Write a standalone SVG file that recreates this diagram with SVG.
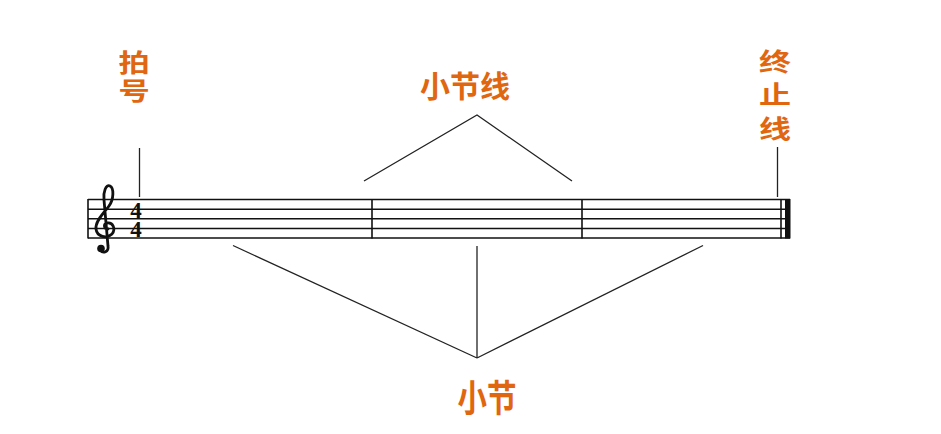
<svg xmlns="http://www.w3.org/2000/svg" width="941" height="434" viewBox="0 0 941 434">
<style>
.lbl{font-family:"Noto Sans CJK SC","Noto Sans CJK TC",sans-serif;font-weight:bold;fill:#e0660f;text-anchor:middle}
.staff{stroke:#111;stroke-width:1.5;fill:none}
.bar{stroke:#111;stroke-width:1.6}
.ptr{stroke:#222;stroke-width:1.3;fill:none}
.ts{font-family:"Liberation Serif","DejaVu Serif",serif;font-weight:bold;font-size:23px;fill:#111;text-anchor:middle}
</style>
<rect width="941" height="434" fill="#fff"/>
<g id="staff">
  <g class="staff">
    <line x1="88" y1="199.5" x2="790" y2="199.5"/>
    <line x1="88" y1="209.2" x2="790" y2="209.2"/>
    <line x1="88" y1="218.8" x2="790" y2="218.8"/>
    <line x1="88" y1="228.4" x2="790" y2="228.4"/>
    <line x1="88" y1="238" x2="790" y2="238"/>
  </g>
  <line class="bar" x1="88" y1="199" x2="88" y2="238.5"/>
  <line class="bar" x1="372" y1="199" x2="372" y2="238.5"/>
  <line class="bar" x1="582" y1="199" x2="582" y2="238.5"/>
  <line class="bar" x1="781" y1="199" x2="781" y2="238.5"/>
  <rect x="785" y="199" width="5.5" height="39.5" fill="#111"/>
  <g id="clef">
    <path d="M108 229 C104 229 103 224 107 223 C113 222 116 229 112 234 C107 239 97 237 96 229 C95 221 104 213 109 206 C114 199 114 188 110 186 C106 184 103 192 104 200 L108 246 C109 252 103 254 100 250" fill="none" stroke="#111" stroke-width="2.8" stroke-linecap="round"/>
    <circle cx="101" cy="248.5" r="3.8" fill="#111"/>
  </g>
  <g id="timesig">
    <text class="ts" x="136" y="217.5">4</text>
    <text class="ts" x="136" y="237">4</text>
  </g>
</g>
<g id="label-paihao">
  <g transform="translate(134,0) scale(1.25,1)">
    <text class="lbl" x="0" y="72" font-size="25">拍</text>
    <text class="lbl" x="0" y="100" font-size="25">号</text>
  </g>
</g>
<g id="label-xiaojiexian">
  <text class="lbl" x="465" y="97" font-size="30">小节线</text>
</g>
<g id="label-zhongzhixian">
  <g transform="translate(775,0) scale(1.28,1)">
    <text class="lbl" x="0" y="71" font-size="25">终</text>
    <text class="lbl" x="0" y="104" font-size="25">止</text>
    <text class="lbl" x="0" y="138" font-size="25">线</text>
  </g>
</g>
<g id="label-xiaojie">
  <g transform="translate(487,0) scale(0.95,1.2)">
    <text class="lbl" x="0" y="343" font-size="31">小节</text>
  </g>
</g>
<g id="connectors" class="ptr">
  <line x1="139.5" y1="148" x2="139.5" y2="197"/>
  <polyline points="364,181 477,115 572,181"/>
  <line x1="777.5" y1="147" x2="777.5" y2="197"/>
  <line x1="233" y1="245.5" x2="477" y2="358"/>
  <line x1="477" y1="246" x2="477" y2="358"/>
  <line x1="703" y1="245.5" x2="477" y2="358"/>
</g>
</svg>
